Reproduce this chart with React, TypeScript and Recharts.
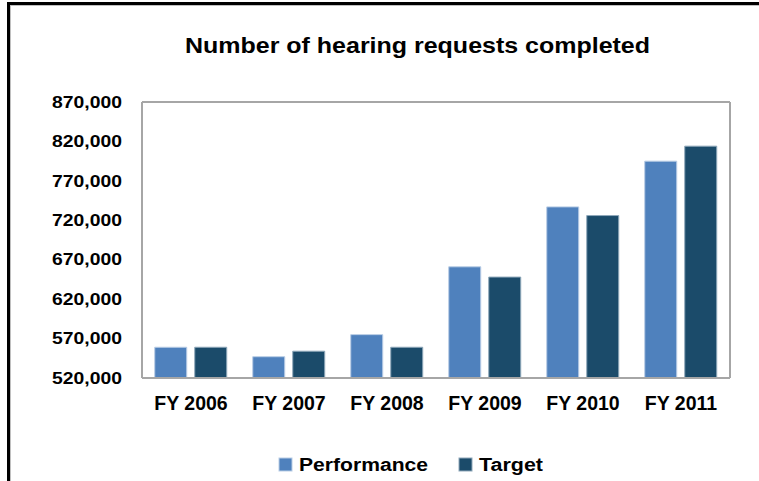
import React from "react";
import { BarChart, Bar, XAxis, YAxis, CartesianGrid } from "recharts";

const years = ["FY 2006", "FY 2007", "FY 2008", "FY 2009", "FY 2010", "FY 2011"];
const performance = [559000, 547000, 575000, 661000, 737000, 795000];
const target = [559000, 554000, 559000, 648000, 726000, 814000];
const yTicks = [520000, 570000, 620000, 670000, 720000, 770000, 820000, 870000];

const series = [
  { key: "performance", name: "Performance", color: "#4F81BD", edge: "#B9CDE5" },
  { key: "target", name: "Target", color: "#1B4B6A", edge: "#8FA8BA" },
];

const data = years.map((year, i) => ({
  year,
  performance: performance[i],
  target: target[i],
}));

const font = '"Liberation Sans", Arial, sans-serif';
const grid = "#A6A6A6";

// legend layout (x of swatch, text width) per series
const legendX = [279, 459];
const legendTextW = [129, 64];

function YTick(props: any) {
  const { x, y, payload } = props;
  return (
    <text
      x={x}
      y={y}
      dy="0.36em"
      textAnchor="end"
      fontSize={16}
      fontWeight="bold"
      fontFamily={font}
      fill="#000"
      transform={`translate(${x},0) scale(1.21,1) translate(${-x},0)`}
    >
      {Number(payload.value).toLocaleString("en-US")}
    </text>
  );
}

export default function App() {
  return (
    <div
      style={{
        position: "absolute",
        left: 0,
        top: 0,
        width: 759,
        height: 481,
        overflow: "hidden",
        background: "#fff",
        fontFamily: font,
      }}
    >
      {/* outer frame */}
      <div style={{ position: "absolute", left: 7, top: 2, right: 0, height: 3, background: "#000" }} />
      <div style={{ position: "absolute", left: 7, top: 2, bottom: 0, width: 3, background: "#000" }} />
      <div style={{ position: "absolute", left: 10, top: 5, right: 0, height: 1, background: "#C0C0C0" }} />
      <div style={{ position: "absolute", left: 10, top: 5, bottom: 0, width: 1, background: "#C0C0C0" }} />

      <div style={{ position: "absolute", left: 0, top: 0 }}>
        <BarChart
          width={759}
          height={481}
          data={data}
          margin={{ top: 102, right: 0, bottom: 0, left: 0 }}
          barCategoryGap="13%"
          barGap={8}
        >
          <CartesianGrid horizontal vertical={false} stroke={grid} strokeWidth={2} />
          <XAxis
            dataKey="year"
            height={103}
            tickLine={false}
            axisLine={{ stroke: grid, strokeWidth: 2 }}
            tickMargin={12}
            tick={{ fontSize: 19.5, fontWeight: "bold", fill: "#000", fontFamily: font }}
          />
          <YAxis
            yAxisId="left"
            width={142}
            domain={[520000, 870000]}
            ticks={yTicks}
            allowDataOverflow
            tickLine={false}
            axisLine={{ stroke: grid, strokeWidth: 2 }}
            tickMargin={14}
            tick={<YTick />}
          />
          <YAxis
            yAxisId="right"
            orientation="right"
            width={29}
            domain={[520000, 870000]}
            tick={false}
            tickLine={false}
            axisLine={{ stroke: grid, strokeWidth: 2 }}
          />
          {series.map((s) => (
            <Bar
              key={s.key}
              yAxisId="left"
              dataKey={s.key}
              name={s.name}
              fill={s.color}
              stroke={s.edge}
              strokeWidth={1}
              isAnimationActive={false}
            />
          ))}
        </BarChart>
      </div>

      {/* title and legend */}
      <svg
        width={759}
        height={481}
        style={{ position: "absolute", left: 0, top: 0, pointerEvents: "none" }}
      >
        <text
          x={185}
          y={53}
          fontSize={22}
          fontWeight="bold"
          fontFamily={font}
          fill="#000"
          textLength={465}
          lengthAdjust="spacingAndGlyphs"
        >
          Number of hearing requests completed
        </text>
        {series.map((s, i) => (
          <g key={s.key}>
            <rect x={legendX[i]} y={458} width={13} height={13} fill={s.color} stroke={s.edge} strokeWidth={1} />
            <text
              x={legendX[i] + 20}
              y={471}
              fontSize={18}
              fontWeight="bold"
              fontFamily={font}
              fill="#000"
              textLength={legendTextW[i]}
              lengthAdjust="spacingAndGlyphs"
            >
              {s.name}
            </text>
          </g>
        ))}
      </svg>
    </div>
  );
}
